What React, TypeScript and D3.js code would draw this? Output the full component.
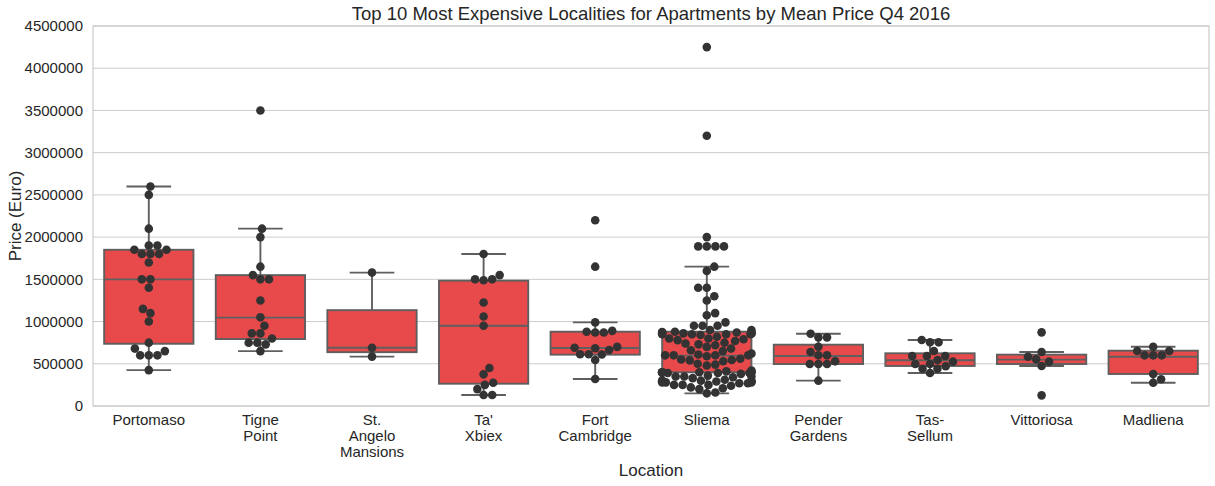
import React from 'react';
import * as d3 from 'd3';

// localities on the x axis (multi-line labels)
const localities = [
  'Portomaso', 'Tigne Point', 'St. Angelo Mansions', "Ta' Xbiex", 'Fort Cambridge',
  'Sliema', 'Pender Gardens', 'Tas- Sellum', 'Vittoriosa', 'Madliena',
];
const tickLabels = [
  ['Portomaso'], ['Tigne', 'Point'], ['St.', 'Angelo', 'Mansions'], ["Ta'", 'Xbiex'], ['Fort', 'Cambridge'],
  ['Sliema'], ['Pender', 'Gardens'], ['Tas-', 'Sellum'], ['Vittoriosa'], ['Madliena'],
];

// individual listing prices (Euro)
const portomaso = [2600000, 2500000, 2100000, 1900000, 1900000, 1850000, 1850000, 1800000, 1800000, 1800000, 1700000, 1500000, 1500000, 1400000, 1150000, 1100000, 1000000, 750000, 680000, 650000, 600000, 600000, 600000, 425000];
const tignePoint = [3500000, 2100000, 2000000, 1650000, 1550000, 1500000, 1500000, 1250000, 1050000, 950000, 860000, 860000, 800000, 750000, 750000, 730000, 650000];
const stAngelo = [1580000, 690000, 585000];
const taXbiex = [1800000, 1550000, 1500000, 1500000, 1490000, 1225000, 1060000, 950000, 450000, 375000, 275000, 250000, 200000, 130000, 130000];
const fortCambridge = [2200000, 1650000, 990000, 890000, 880000, 870000, 870000, 700000, 690000, 683000, 663000, 612000, 612000, 610000, 545000, 320000];
const sliema = [
  4250000, 3200000, 2000000, 1890000, 1890000, 1890000, 1890000,
  1650000, 1600000, 1400000, 1400000, 1300000, 1250000, 1100000, 1075000, 990000, 950000, 950000, 950000,
  900000, 900000, 880000, 875000, 870000, 870000, 870000, 860000, 860000, 860000, 860000, 850000, 850000, 850000, 850000, 840000,
  820000, 800000, 800000, 790000, 780000, 770000,
  750000, 740000, 730000, 720000, 700000,
  680000, 660000, 650000,
  620000, 610000, 600000, 600000, 600000, 600000, 590000,
  560000, 550000, 545000, 540000, 530000,
  500000, 490000, 480000,
  420000, 410000, 400000, 400000, 400000, 400000, 400000, 400000, 390000, 390000, 390000, 390000, 380000,
  360000, 350000, 350000, 350000, 340000, 330000,
  310000, 300000, 300000, 300000, 300000, 290000, 290000, 290000, 280000, 280000, 280000, 270000, 270000,
  250000, 250000, 250000, 240000,
  220000, 210000, 200000,
  160000, 150000,
];
const penderGardens = [856000, 813000, 813000, 702000, 640000, 600000, 600000, 529000, 497000, 497000, 497000, 300000];
const tasSellum = [781000, 754000, 754000, 651000, 592000, 592000, 592000, 545000, 525000, 497000, 497000, 470000, 442000, 442000, 391000];
const vittoriosa = [872000, 640000, 584000, 553000, 525000, 474000, 126000];
const madliena = [702000, 651000, 651000, 600000, 600000, 600000, 379000, 316000, 276000];

const prices = [portomaso, tignePoint, stAngelo, taXbiex, fortCambridge, sliema, penderGardens, tasSellum, vittoriosa, madliena];

// box statistics as drawn
const whiskerLow = [425000, 650000, 585000, 130000, 320000, 150000, 300000, 391000, 474000, 276000];
const q1 = [737000, 793000, 637500, 264000, 608000, 399000, 497000, 474000, 497000, 379000];
const median = [1500000, 1046000, 690000, 951000, 687000, 596000, 592000, 541000, 549000, 584000];
const q3 = [1850000, 1550000, 1135000, 1484000, 880000, 880000, 726000, 624000, 608000, 655000];
const whiskerHigh = [2600000, 2100000, 1580000, 1800000, 990000, 1650000, 856000, 781000, 640000, 702000];

const yTicks = [0, 500000, 1000000, 1500000, 2000000, 2500000, 3000000, 3500000, 4000000, 4500000];

const W = 1215;
const H = 486;
const margin = { top: 26, right: 6, bottom: 80, left: 93 };
const FONT = '"Liberation Sans", Arial, sans-serif';
const BOX_FILL = '#e84a4b';
const LINE = '#5f5f5f';
const DOT = '#333333';
const R = 4.3;

// seaborn-like beeswarm: place each point at the closest free offset to the center
function swarm(ys: number[], halfWidth: number): number[] {
  const order = ys.map((y, i) => ({ y, i })).sort((a, b) => b.y - a.y);
  const placed: { x: number; y: number }[] = [];
  const out = new Array(ys.length).fill(0);
  const d = 2 * R;
  for (const p of order) {
    const near = placed.filter(q => Math.abs(q.y - p.y) < d);
    const cands = [0];
    near.forEach(q => {
      const dy = p.y - q.y;
      const dx = Math.sqrt(Math.max(0, d * d - dy * dy));
      cands.push(q.x + dx, q.x - dx);
    });
    cands.sort((a, b) => Math.abs(a) - Math.abs(b));
    let x = 0;
    for (const c of cands) {
      const ok = near.every(q => (q.x - c) ** 2 + (q.y - p.y) ** 2 >= d * d - 0.01);
      if (ok) { x = c; break; }
    }
    placed.push({ x, y: p.y });
    out[p.i] = Math.max(-halfWidth, Math.min(halfWidth, x));
  }
  return out;
}

export default function App() {
  const innerW = W - margin.left - margin.right;
  const innerH = H - margin.top - margin.bottom;

  const x = d3.scaleBand<string>().domain(localities).range([0, innerW]);
  const y = d3.scaleLinear().domain([0, 4500000]).range([innerH, 0]);
  const bw = x.bandwidth() * 0.8;

  return (
    <svg width={W} height={H} style={{ position: 'absolute', left: 0, top: 0, background: '#fff' }} fontFamily={FONT}>
      <text x={margin.left + innerW / 2} y={20} textAnchor="middle" fontSize={18.5} fill="#262626">
        Top 10 Most Expensive Localities for Apartments by Mean Price Q4 2016
      </text>
      <g transform={`translate(${margin.left},${margin.top})`}>
        {yTicks.map(t => (
          <g key={t}>
            <line x1={0} x2={innerW} y1={y(t)} y2={y(t)} stroke="#cccccc" strokeWidth={1} />
            <text x={-10} y={y(t)} dy="0.35em" textAnchor="end" fontSize={15} fill="#262626">{t}</text>
          </g>
        ))}
        <rect x={0} y={0} width={innerW} height={innerH} fill="none" stroke="#cccccc" strokeWidth={1.2} />

        {localities.map((loc, i) => {
          const cx = (x(loc) as number) + x.bandwidth() / 2;
          const capW = bw / 2;
          return (
            <g key={loc} stroke={LINE} strokeWidth={1.9}>
              <line x1={cx} x2={cx} y1={y(q3[i])} y2={y(whiskerHigh[i])} />
              <line x1={cx} x2={cx} y1={y(q1[i])} y2={y(whiskerLow[i])} />
              <line x1={cx - capW / 2} x2={cx + capW / 2} y1={y(whiskerHigh[i])} y2={y(whiskerHigh[i])} />
              <line x1={cx - capW / 2} x2={cx + capW / 2} y1={y(whiskerLow[i])} y2={y(whiskerLow[i])} />
              <rect x={cx - bw / 2} y={y(q3[i])} width={bw} height={y(q1[i]) - y(q3[i])} fill={BOX_FILL} />
              <line x1={cx - bw / 2} x2={cx + bw / 2} y1={y(median[i])} y2={y(median[i])} />
            </g>
          );
        })}

        {localities.map((loc, i) => {
          const cx = (x(loc) as number) + x.bandwidth() / 2;
          const ys = prices[i].map(v => y(v));
          const xs = swarm(ys, bw / 2);
          return (
            <g key={loc + '-pts'} fill={DOT}>
              {ys.map((py, j) => (
                <circle key={j} cx={cx + xs[j]} cy={py} r={R} />
              ))}
            </g>
          );
        })}

        {localities.map((loc, i) => {
          const cx = (x(loc) as number) + x.bandwidth() / 2;
          return (
            <text key={loc + '-lbl'} x={cx} y={innerH + 19} textAnchor="middle" fontSize={15} fill="#262626">
              {tickLabels[i].map((line, k) => (
                <tspan key={k} x={cx} dy={k === 0 ? 0 : 16}>{line}</tspan>
              ))}
            </text>
          );
        })}

        <text x={innerW / 2} y={innerH + 70} textAnchor="middle" fontSize={17} fill="#262626">Location</text>
        <text transform={`translate(${-72},${innerH / 2}) rotate(-90)`} textAnchor="middle" fontSize={17} fill="#262626">
          Price (Euro)
        </text>
      </g>
    </svg>
  );
}
